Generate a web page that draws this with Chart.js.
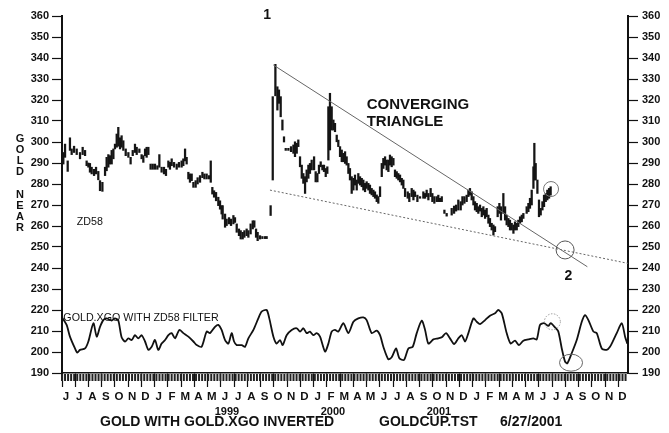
<!DOCTYPE html>
<html>
<head>
<meta charset="utf-8">
<script src="https://cdn.jsdelivr.net/npm/chart.js@4.4.0/dist/chart.umd.min.js"></script>
<style>
  html, body { margin: 0; padding: 0; background: #fff; }
  canvas { display: block; }
</style>
</head>
<body>
<canvas id="grafico" width="669" height="433"></canvas>
<script>
// time axis is in months counted from 1 June 1998
const monthLetters = ['J','J','A','S','O','N','D',
  'J','F','M','A','M','J','J','A','S','O','N','D',
  'J','F','M','A','M','J','J','A','S','O','N','D',
  'J','F','M','A','M','J','J','A','S','O','N','D'];
const yearLabels = ['1999', '2000', '2001'];
const yearTicks = [8, 20, 32];
const lastMonth = 42.73;

// gold price bars (high / low)
const priceT = [
  0.10,0.23,0.43,0.60,0.73,0.91,1.11,1.36,1.56,1.74,1.86,1.99,2.11,2.24,2.42,2.57,2.74,2.87,3.05,3.25,
  3.37,3.50,3.62,3.75,3.88,4.00,4.13,4.25,4.38,4.50,4.63,4.81,5.01,5.18,5.34,5.51,5.64,5.84,6.01,6.14,
  6.27,6.39,6.52,6.69,6.85,7.02,7.20,7.35,7.52,7.70,7.85,8.03,8.15,8.28,8.46,8.66,8.83,9.03,9.16,9.29,
  9.41,9.54,9.66,9.79,9.92,10.09,10.24,10.42,10.60,10.75,10.92,11.10,11.23,11.35,11.48,11.63,11.80,11.93,12.05,12.13,
  12.31,12.43,12.61,12.76,12.94,13.06,13.19,13.36,13.49,13.64,13.77,13.94,14.07,14.24,14.40,14.52,14.65,14.77,14.95,15.13,
  15.33,15.45,15.75,15.91,16.11,16.26,16.38,16.51,16.64,16.76,16.89,17.09,17.29,17.47,17.59,17.72,17.84,17.97,18.10,18.22,
  18.35,18.47,18.60,18.72,18.85,19.03,19.15,19.28,19.40,19.53,19.66,19.78,19.91,20.03,20.11,20.23,20.36,20.49,20.61,20.74,
  20.86,20.99,21.12,21.24,21.37,21.49,21.62,21.74,21.87,22.00,22.12,22.25,22.37,22.50,22.63,22.75,22.88,23.00,23.13,23.25,
  23.38,23.51,23.63,23.76,23.88,24.01,24.14,24.26,24.39,24.51,24.64,24.76,24.89,25.02,25.14,25.27,25.39,25.52,25.65,25.77,
  25.90,26.10,26.22,26.40,26.53,26.65,26.83,27.03,27.28,27.41,27.53,27.66,27.83,27.96,28.11,28.29,28.41,28.54,28.67,28.87,
  29.04,29.42,29.60,29.75,29.92,30.10,30.23,30.38,30.55,30.68,30.80,30.93,31.06,31.18,31.31,31.43,31.56,31.69,31.81,31.94,
  32.06,32.19,32.31,32.44,32.57,32.69,32.89,33.02,33.14,33.32,33.45,33.57,33.70,33.82,33.95,34.08,34.20,34.33,34.45,34.58,
  34.71,34.83,35.08,35.21,35.33,35.46,35.59,35.66,35.76,35.89,36.01,36.14,36.27,36.39,36.52,36.64,36.77,36.89
];
const priceHi = [
  295,299,291,302,296.7,298,296.7,295,297.5,296,291,290,289.8,288,287,288,286,281.6,280.8,288,
  292.7,294,293.5,296,296.7,299,303.8,307,302,303,300.6,296.7,295,292.7,296,299,297.5,296.7,294,293.5,
  296.7,297.5,297.5,289.5,289.5,289.5,288.7,294,288,288,287,291,290.3,292,290.3,289.5,290.3,291,292,296.7,
  292.7,285.6,284.8,284.8,280.8,281.6,283,284,285.6,284.8,284.8,284,291,278.4,276.8,276,273.7,272,269.7,269.7,
  265.7,263.3,264,263.3,265,264,261,258.6,257.8,257,257.8,258.6,257.8,261,262.5,262.5,258.6,257,255.4,255,
  255,255,269.7,321.6,337,326.3,324.8,321.6,310.5,302.5,297,297,297.8,298.6,300.1,299.4,301,293,289,285,
  283.5,286.7,289,289.8,291.4,293,285.9,285,289,290.6,289,289,287.4,288.2,316.8,323.2,316.8,310.5,308.9,303.3,
  300.9,297.8,296.2,294.6,295.4,293,289.8,287.4,283.5,282.7,284.3,281.9,285,283.5,282.7,281.9,280.3,281.1,280.3,279.5,
  277.9,277.1,276.3,274.8,274,278.7,289.8,292.2,293,291.4,291.4,293.8,293,292.2,286.7,285.9,285,284.3,282.7,281.9,
  277.9,276.3,275.5,277.9,277.1,276.3,274.7,274,276.3,275.5,277.1,275.5,277.9,275.5,274,274,274.7,273.2,274,267.6,
  266,268.4,269.5,270,272.4,271.6,274,274,274.7,277.1,277.9,276.3,274,271.6,270.8,269.2,270,268.4,269.2,267.6,
  268.4,265.2,263.6,261.3,260.5,259.7,269.2,270.8,269.2,275.5,269.2,265.2,263.6,262.8,261.3,260.5,262,261.3,262.8,264.4,
  265.2,266,269.2,270.8,273.2,277.1,288.2,299.4,289.8,281.9,272.4,268.4,271.6,274.7,275.5,277.1,277.9,278.7
];
const priceLo = [
  289.5,292.7,286,296,294,295,294,292,294,293.5,288.7,288,285.6,284.8,284,284.8,282,276.8,276.5,284,
  286.3,288,289.5,289.5,292,296.7,297.5,298,296.7,297.5,296,293.5,292.7,289.5,293.5,295,294,295,292,290.3,
  293.5,292.7,294,287,287,287,287,288,285.6,284.8,284,288,287,288.7,288,287,288,288,288.7,291,
  289.5,282.4,280.8,281.6,278.4,278.4,280,280.8,283,282.4,282.4,282.4,280.8,275.2,273.7,272,269.7,268,265.7,263.3,
  259.4,260.2,261,260.2,261,261.7,257,255.4,253.8,253.8,254.6,255.4,254.6,256.2,258.6,259.4,254.6,253,253.8,254,
  254,254,265,281.9,322,315.2,318.4,312,305.7,300,296,296,295.4,294.6,293,294.6,297.8,288.2,282.7,280.3,
  275.5,281,282.7,285,286.7,286.7,281,281,285,288.2,286.7,285.9,283.5,285,291.4,296.2,305.7,305.7,304.9,300.1,
  297.8,293,290.6,290.6,289.8,289,285,281.9,275.5,277.1,279.5,277.1,280.3,279.5,278.7,277.1,276.3,277.9,277.1,275.5,
  274.8,274,273.2,271.6,270.8,274,283.5,287.4,289,286.7,285.9,289,288.2,289,283.5,282.7,281.9,281,279.5,277.9,
  274,273.2,271.6,274,272.4,274,271.6,273.2,273.2,273.2,274,272.4,274,271.6,270.8,271.6,271.6,271.6,271.6,266,
  264.7,265.2,266,267.1,267.6,267.6,270,270.8,271.6,274,274.7,272.4,270,267.6,266.8,266,267.1,264.4,265.2,263.6,
  264.4,261.3,259.7,258.1,255.7,257.3,264.4,266,262.8,266,262.8,260.5,259.7,258.1,258.1,256.5,258.1,258.1,259.7,261.3,
  262,263.6,266,266.8,268.4,270,277.9,281.9,281.9,275.5,264.4,265.2,267.6,269.2,271.6,272.4,273.2,274.7
];

// GOLD.XGO inverted, ZD58 filter
const xgoT = [
  0,0.35,0.60,0.98,1.16,1.36,1.74,1.99,2.37,2.62,2.87,3.12,3.37,3.75,4.00,4.25,4.50,4.76,5.01,5.26,
  5.51,5.76,6.01,6.27,6.52,6.77,7.02,7.27,7.52,7.78,8.03,8.28,8.53,8.86,9.16,9.54,9.92,10.17,10.54,10.92,
  11.17,11.55,11.80,12.05,12.31,12.56,12.81,12.99,13.19,13.57,13.82,14.07,14.45,14.82,15.07,15.45,15.65,15.96,16.21,16.46,
  16.66,16.96,17.34,17.72,17.97,18.22,18.47,18.72,18.98,19.23,19.48,19.86,20.11,20.36,20.61,20.86,21.24,21.62,22.00,22.37,
  22.75,23.00,23.38,23.76,24.01,24.26,24.64,24.89,25.22,25.47,25.82,26.15,26.48,26.78,27.16,27.41,27.66,28.04,28.41,28.67,
  28.99,29.29,29.60,29.92,30.18,30.43,30.68,31.06,31.31,31.56,31.94,32.31,32.69,32.94,33.20,33.57,33.87,34.20,34.50,34.83,
  35.21,35.59,35.84,36.09,36.39,36.72,36.89,37.22,37.47,37.73,37.98,38.15,38.48,38.86,39.24,39.49,39.74,40.12,40.37,40.75,
  41.12,41.37,41.63,41.88,42.26,42.51,42.68
];
const xgoV = [
  216.5,212.9,207.3,201.7,199.7,201,201.7,205,213.7,207.3,212,215.2,216,215,216,215,207,205,206.5,205.7,
  208,206.5,208,205,201,202.5,205.7,201,204,205.7,208,209,206.5,210.5,209,207.3,205,203.3,202.5,209.7,
  209,212,212.9,210.5,205.7,204,209,205,203.3,203.3,202.5,206.5,210.5,216,219.2,220,216,207.3,204,205.7,
  203.3,208,210.5,211.3,209.7,211.3,209,209.7,208,209,207.3,200.2,204,209.7,210.5,209.7,213.7,209,214.4,216,
  216.5,215.2,209,210.2,208,202.5,196.5,197.5,201.7,197,196.2,201.7,202.5,209,214.9,210.5,204,206,206.5,207,
  209,206.5,203.8,206.5,208,205,209,216,214.4,213.3,215.2,217.3,218.4,220,218.4,209,204,205.4,203.3,205.4,
  206,206.5,206,212.9,213.7,212.4,213.7,211.7,209.7,201.7,195.4,194.6,199.4,205.7,214.4,217.6,215.2,209.7,209,201.7,
  201,202.5,205.7,209,213.7,207.3,204
];

// converging triangle
const upperT = [15.95, 39.66];
const upperV = [336.7, 240.6];
const lowerT = [15.70, 42.73];
const lowerV = [277.1, 242.2];

// circled spots [month, value]
const circleAt = [[37.98, 248.6], [36.92, 277.6], [37.02, 214.4], [38.43, 194.9]];

// chart notes [text, month, value]
const notes = [
  ['1', 15.48, 360.5],
  ['2', 38.23, 235.9],
  ['CONVERGING', 23.0, 317.6],
  ['TRIANGLE', 23.0, 309.7],
  ['ZD58', 1.11, 261.9],
  ['GOLD.XGO WITH ZD58 FILTER', 0.1, 216.2]
];

const FONT = "'Liberation Sans', Arial, sans-serif";
const INK = '#111';

const decor = {
  id: 'decor',
  afterDatasetsDraw(chart) {
    const { ctx, scales: { x, y } } = chart;
    ctx.save();
    // circles
    const looks = [
      { rx: 9, ry: 9, color: '#555', dash: [] },
      { rx: 7.5, ry: 7.5, color: '#777', dash: [] },
      { rx: 8, ry: 8, color: '#999', dash: [1.5, 1.5] },
      { rx: 11.5, ry: 8.5, color: '#666', dash: [] }
    ];
    circleAt.forEach(([m, v], i) => {
      const l = looks[i];
      ctx.beginPath();
      ctx.setLineDash(l.dash);
      ctx.strokeStyle = l.color;
      ctx.lineWidth = 1;
      ctx.ellipse(x.getPixelForValue(m), y.getPixelForValue(v), l.rx, l.ry, 0, 0, Math.PI * 2);
      ctx.stroke();
    });
    ctx.setLineDash([]);
    // notes
    ctx.fillStyle = INK;
    ctx.textBaseline = 'middle';
    notes.forEach(([t, m, v]) => {
      const big = t.length <= 1;
      const head = t === 'CONVERGING' || t === 'TRIANGLE';
      ctx.font = big ? `bold 14px ${FONT}` : head ? `bold 15px ${FONT}` : `10.7px ${FONT}`;
      ctx.textAlign = big ? 'center' : 'left';
      ctx.fillText(t, x.getPixelForValue(m), y.getPixelForValue(v));
    });
    ctx.restore();
  },
  afterDraw(chart) {
    const { ctx, chartArea, scales: { x } } = chart;
    ctx.save();
    // weekly ticks under the axis
    ctx.strokeStyle = '#222';
    ctx.lineWidth = 2;
    for (let m = 0; m < x.max; m += 12 / 52.18) {
      const px = x.getPixelForValue(m);
      ctx.beginPath();
      ctx.moveTo(px, chartArea.bottom + 1);
      ctx.lineTo(px, chartArea.bottom + 8);
      ctx.stroke();
    }
    // axis title, stacked letters
    ctx.fillStyle = INK;
    ctx.font = `bold 11px ${FONT}`;
    ctx.textAlign = 'center';
    ctx.textBaseline = 'middle';
    const letters = ['G', 'O', 'L', 'D', '', 'N', 'E', 'A', 'R'];
    letters.forEach((c, i) => ctx.fillText(c, 20, 139 + i * 11.1));
    // footer
    ctx.font = `bold 14px ${FONT}`;
    ctx.textAlign = 'left';
    ctx.fillText('GOLD WITH GOLD.XGO INVERTED', 100, 422);
    ctx.fillText('GOLDCUP.TST', 379, 422);
    ctx.fillText('6/27/2001', 500, 422);
    ctx.restore();
  }
};

const yAxis = (pos, w, pad) => ({
  type: 'linear',
  position: pos,
  min: 190,
  max: 360,
  ticks: { stepSize: 10, color: INK, padding: pad, font: { family: FONT, weight: 'bold', size: 11 } },
  grid: { drawOnChartArea: false, tickLength: 10, tickColor: INK, tickWidth: 1.2 },
  border: { color: INK, width: 2 },
  afterFit: s => { s.width = w; }
});

new Chart(document.getElementById('grafico'), {
  type: 'bar',
  data: {
    datasets: [
      {
        type: 'line',
        data: upperT.map((t, i) => ({ x: t, y: upperV[i] })),
        borderColor: '#666', borderWidth: 1, pointRadius: 0
      },
      {
        type: 'line',
        data: lowerT.map((t, i) => ({ x: t, y: lowerV[i] })),
        borderColor: '#666', borderWidth: 1, borderDash: [2, 2], pointRadius: 0
      },
      {
        type: 'line',
        data: xgoT.map((t, i) => ({ x: t, y: xgoV[i] })),
        borderColor: INK, borderWidth: 1.8, pointRadius: 0, tension: 0.25
      },
      {
        type: 'bar',
        data: priceT.map((t, i) => ({ x: t, y: [priceLo[i], priceHi[i]] })),
        backgroundColor: '#151515',
        barThickness: 1.6,
        grouped: false
      }
    ]
  },
  options: {
    responsive: false,
    animation: false,
    devicePixelRatio: 1,
    layout: { padding: { top: 16, left: 0, right: 0, bottom: 0 } },
    plugins: { legend: { display: false }, tooltip: { enabled: false } },
    scales: {
      x: {
        type: 'linear',
        position: 'bottom',
        min: 0,
        max: lastMonth,
        offset: false,
        afterBuildTicks: s => { s.ticks = monthLetters.map((_, i) => ({ value: i })); },
        ticks: {
          autoSkip: false, maxRotation: 0, minRotation: 0, labelOffset: 4, padding: 3, color: INK,
          font: { family: FONT, weight: 'bold', size: 11.5 },
          callback: v => monthLetters[Math.round(v)]
        },
        grid: { drawOnChartArea: false, offset: false, tickLength: 14, tickColor: INK, tickWidth: 1.2 },
        border: { color: INK, width: 1.5 },
        afterFit: s => { s.height = 30; }
      },
      xYear: {
        type: 'linear',
        position: 'bottom',
        weight: 1,
        min: 0,
        max: lastMonth,
        afterBuildTicks: s => { s.ticks = yearTicks.map(v => ({ value: v })); },
        ticks: {
          autoSkip: false, maxRotation: 0, padding: 2, color: INK,
          font: { family: FONT, weight: 'bold', size: 11 },
          callback: v => yearLabels[yearTicks.indexOf(v)]
        },
        grid: { display: false, drawTicks: false },
        border: { display: false },
        afterFit: s => { s.height = 30; }
      },
      y: yAxis('left', 62, 3),
      y2: yAxis('right', 41, 4)
    }
  },
  plugins: [decor]
});
</script>
</body>
</html>
